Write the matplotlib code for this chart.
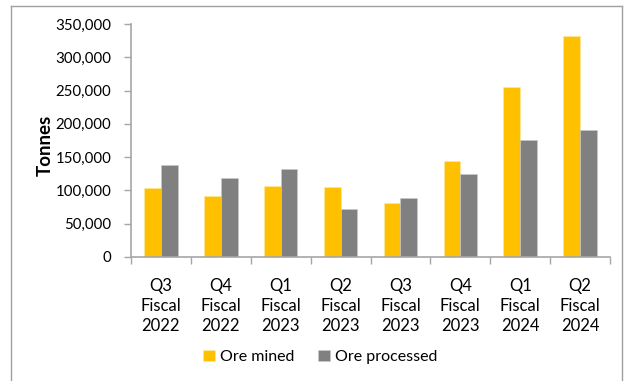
import matplotlib
matplotlib.use("Agg")
import matplotlib.pyplot as plt
from matplotlib.lines import Line2D
from matplotlib.ticker import FuncFormatter, FixedLocator
import numpy as np

categories = ["Q3\nFiscal\n2022", "Q4\nFiscal\n2022", "Q1\nFiscal\n2023", "Q2\nFiscal\n2023",
              "Q3\nFiscal\n2023", "Q4\nFiscal\n2023", "Q1\nFiscal\n2024", "Q2\nFiscal\n2024"]
ore_mined = [103000, 91500, 106500, 105000, 81500, 143500, 256000, 332000]
ore_processed = [138500, 118500, 131500, 72000, 88500, 124000, 176500, 191000]
y_ticks = [0, 50000, 100000, 150000, 200000, 250000, 300000, 350000]

plt.rcParams['font.family'] = ['Lato', 'DejaVu Sans']

W, H = 629, 381
fig = plt.figure(figsize=(W / 100, H / 100), dpi=100)
ax = fig.add_axes([131 / W, 1 - 257 / H, (610 - 131) / W, (257 - 24) / H])

x = np.arange(len(categories))
bw = 0.28
ax.bar(x - bw / 2, ore_mined, width=bw, color="#FFC000", label="Ore mined",
       edgecolor="#FFE8A0", linewidth=0.4)
ax.bar(x + bw / 2, ore_processed, width=bw, color="#808080", label="Ore processed",
       edgecolor="#C8C8C8", linewidth=0.4)

ax.set_xlim(-0.5, len(categories) - 0.5)
ax.set_ylim(0, 350000)
ax.set_yticks(y_ticks)
ax.yaxis.set_major_formatter(FuncFormatter(lambda v, p: f"{int(v):,}"))
ax.set_xticks(x)
ax.set_xticklabels(categories, fontsize=12, linespacing=1.3)
ax.xaxis.set_minor_locator(FixedLocator(np.arange(-0.5, len(categories), 1.0)))
ax.tick_params(axis="x", which="major", length=0, pad=15)
ax.tick_params(axis="x", which="minor", length=5, color="#A6A6A6", width=1)
ax.tick_params(axis="y", length=5, color="#A6A6A6", width=1, labelsize=10.8, pad=9)

for s in ["top", "right"]:
    ax.spines[s].set_visible(False)
for s in ["left", "bottom"]:
    ax.spines[s].set_color("#A6A6A6")
    ax.spines[s].set_linewidth(1.2)

fig.text(45 / W, 1 - 145 / H, "Tonnes", rotation=90, ha="center", va="center",
         fontsize=13.5, fontweight="bold")

leg = fig.legend(loc="center", bbox_to_anchor=(320 / W, 1 - 357 / H), ncol=2, frameon=False,
                 fontsize=11.5, handlelength=0.75, handleheight=0.75, handletextpad=0.3,
                 columnspacing=1.5)

# outer chart border
for (xs, ys) in [([11, 11], [6, H]), ([11, 622], [6, 6]), ([622, 622], [6, H])]:
    fig.add_artist(Line2D([v / W for v in xs], [1 - v / H for v in ys],
                          transform=fig.transFigure, color="#A0A0A0", linewidth=1))

fig.savefig("out.png", dpi=100)
